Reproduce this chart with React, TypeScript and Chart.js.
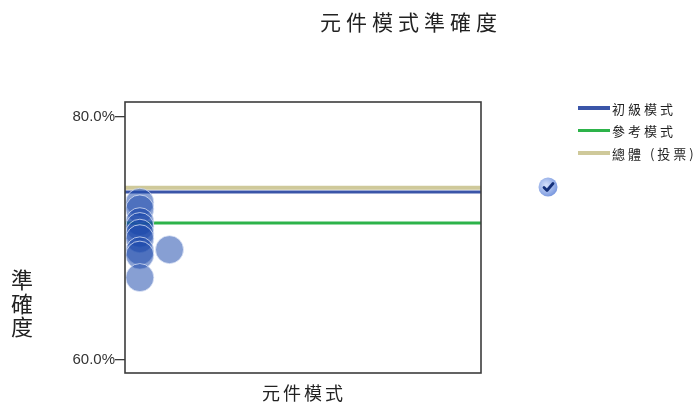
import React, { useEffect, useRef } from "react";
import { Chart, registerables } from "chart.js";

Chart.register(...registerables);

const chartTitle = "元件模式準確度";
const xAxisTitle = "元件模式";
const yAxisTitle = ["準", "確", "度"];
const yTickValues = [60, 80];
const seriesNames = ["初級模式", "參考模式", "總體 (投票)"];
const seriesColors = ["#3a55a8", "#2db34a", "#cfc99a"];
const seriesAccuracy = [73.8, 71.25, 74.15];
const bubbleX = [0.5, 0.5, 0.5, 0.5, 0.5, 0.5, 0.5, 0.5, 0.5, 1.5];
const bubbleY = [72.95, 72.4, 71.35, 70.95, 70.4, 69.95, 68.95, 68.6, 66.75, 69.05];
const X_MIN = 0;
const X_MAX = 12;
const Y_MIN = 58.9;
const Y_MAX = 81.2;

const boxPlugin = {
  id: "boxPlugin",
  afterDraw(chart: any) {
    const { ctx, chartArea } = chart;
    ctx.save();
    ctx.strokeStyle = "#3c3c3c";
    ctx.lineWidth = 1.6;
    ctx.strokeRect(chartArea.left, chartArea.top, chartArea.right - chartArea.left, chartArea.bottom - chartArea.top);
    ctx.restore();
  },
};

export default function App() {
  const ref = useRef<HTMLCanvasElement | null>(null);
  useEffect(() => {
    if (!ref.current) return;
    const lineSets = seriesNames.map((name, i) => ({
      type: "line" as const,
      label: name,
      data: [
        { x: X_MIN, y: seriesAccuracy[i] },
        { x: X_MAX, y: seriesAccuracy[i] },
      ],
      borderColor: seriesColors[i],
      borderWidth: i === 2 ? 4 : 3,
      pointRadius: 0,
      order: i === 2 ? 3 : 2,
    }));
    const chart = new Chart(ref.current, {
      type: "bubble",
      data: {
        datasets: [
          ...lineSets,
          {
            type: "bubble" as const,
            label: "points",
            data: bubbleX.map((x, i) => ({ x, y: bubbleY[i], r: 14 })),
            backgroundColor: "rgba(25,70,170,0.52)",
            borderColor: "rgba(225,232,248,0.75)",
            borderWidth: 1,
            order: 1,
          } as any,
        ],
      },
      options: {
        animation: false,
        responsive: false,
        maintainAspectRatio: false,
        clip: false as any,
        layout: { padding: { left: 0, right: 214, top: 102, bottom: 31 } },
        plugins: { legend: { display: false }, tooltip: { enabled: false }, title: { display: false } },
        scales: {
          x: { type: "linear", min: X_MIN, max: X_MAX, display: false },
          y: {
            type: "linear",
            min: Y_MIN,
            max: Y_MAX,
            afterBuildTicks: (s: any) => {
              s.ticks = yTickValues.map((v) => ({ value: v }));
            },
            afterFit: (s: any) => {
              s.width = 125;
            },
            border: { display: false },
            grid: { drawOnChartArea: false, tickLength: 10, color: "#3c3c3c", lineWidth: 1.3 },
            ticks: {
              padding: 0,
              color: "#333",
              font: { family: "'Liberation Sans', Arial, sans-serif", size: 15 },
              callback: (v: any) => Number(v).toFixed(1) + "%",
            },
          },
        },
      },
      plugins: [boxPlugin],
    } as any);
    return () => chart.destroy();
  }, []);

  const cjk = "'Noto Sans CJK TC', 'Noto Sans CJK SC', sans-serif";
  return (
    <div style={{ position: "absolute", left: 0, top: 0, width: 695, height: 404, background: "#fff", overflow: "hidden" }}>
      <canvas ref={ref} width={695} height={404} style={{ position: "absolute", left: 0, top: 0, width: 695, height: 404 }} />
      <div style={{ position: "absolute", left: 320, top: 7, fontFamily: cjk, fontSize: 21, letterSpacing: 5, lineHeight: "28px", color: "#222", whiteSpace: "nowrap" }}>
        {chartTitle}
      </div>
      <div style={{ position: "absolute", left: 262, top: 380, fontFamily: cjk, fontSize: 18, letterSpacing: 3, lineHeight: "24px", color: "#222", whiteSpace: "nowrap" }}>
        {xAxisTitle}
      </div>
      <div style={{ position: "absolute", left: 11, top: 267, fontFamily: cjk, fontSize: 22, lineHeight: "23.5px", color: "#222", width: 26 }}>
        {yAxisTitle.map((c, i) => (
          <div key={i}>{c}</div>
        ))}
      </div>
      {seriesNames.map((name, i) => (
        <div key={i} style={{ position: "absolute", left: 578, top: 98 + i * 22.5, height: 20, display: "flex", alignItems: "center", whiteSpace: "nowrap" }}>
          <div style={{ width: 32, height: 3.5, background: seriesColors[i], marginRight: 2 }} />
          <span style={{ fontFamily: cjk, fontSize: 13, letterSpacing: 3, color: "#222" }}>{name}</span>
        </div>
      ))}
      <svg style={{ position: "absolute", left: 537, top: 176 }} width={22} height={22} viewBox="0 0 22 22">
        <defs>
          <radialGradient id="g1" cx="0.4" cy="0.4" r="0.6">
            <stop offset="0" stopColor="#d6e2fb" />
            <stop offset="1" stopColor="#7d9be0" />
          </radialGradient>
        </defs>
        <circle cx={11} cy={11} r={9.5} fill="url(#g1)" />
        <path d="M7 11.5 L10 14.5 L16 7.5" stroke="#14307a" strokeWidth={2.8} fill="none" strokeLinecap="round" strokeLinejoin="round" />
      </svg>
    </div>
  );
}
